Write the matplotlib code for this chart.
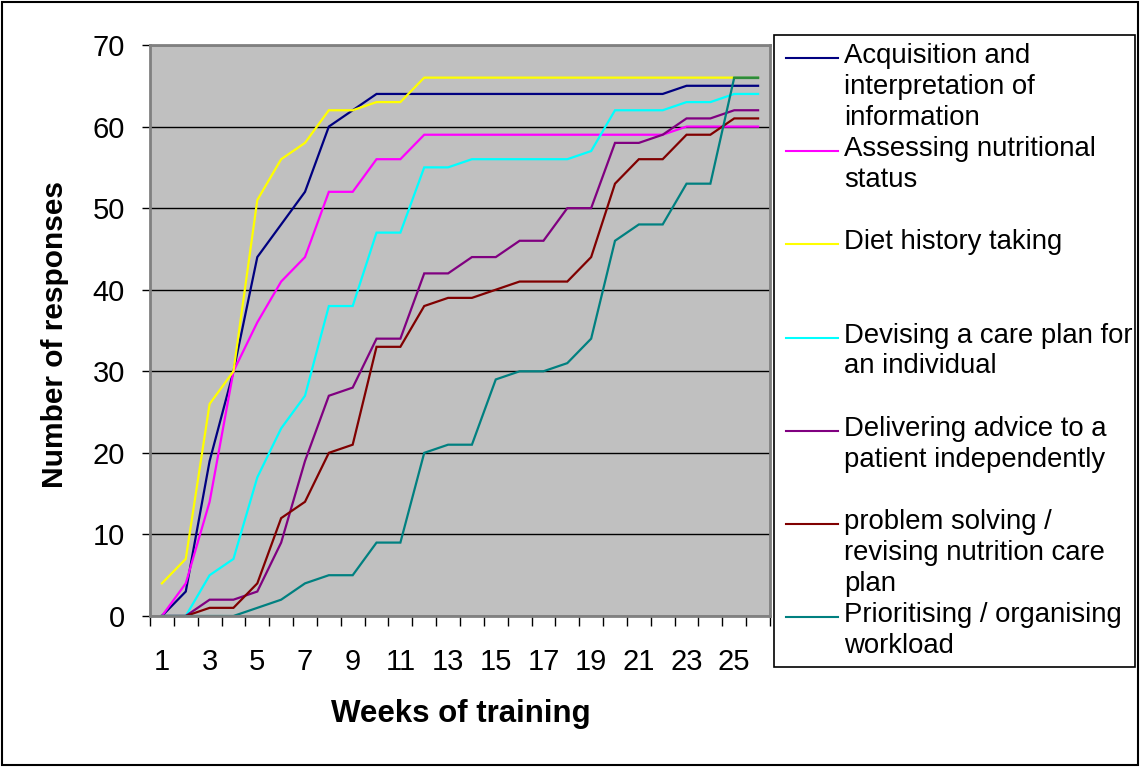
import numpy as np
import matplotlib
matplotlib.use("Agg")
import matplotlib.pyplot as plt
from matplotlib.lines import Line2D
from matplotlib.patches import Rectangle

plt.rcParams['font.family'] = ['Liberation Sans', 'DejaVu Sans']

weeks = list(range(1, 27))
tick_labels = [str(w) for w in range(1, 26, 2)]

acquisition = [0, 3, 19, 30, 44, 48, 52, 60, 62, 64, 64, 64, 64, 64, 64, 64, 64, 64, 64, 64, 64, 64, 65, 65, 65, 65]
assessing = [0, 4, 14, 30, 36, 41, 44, 52, 52, 56, 56, 59, 59, 59, 59, 59, 59, 59, 59, 59, 59, 59, 60, 60, 60, 60]
diet_history = [4, 7, 26, 30, 51, 56, 58, 62, 62, 63, 63, 66, 66, 66, 66, 66, 66, 66, 66, 66, 66, 66, 66, 66, 66, 66]
devising = [0, 0, 5, 7, 17, 23, 27, 38, 38, 47, 47, 55, 55, 56, 56, 56, 56, 56, 57, 62, 62, 62, 63, 63, 64, 64]
delivering = [0, 0, 2, 2, 3, 9, 19, 27, 28, 34, 34, 42, 42, 44, 44, 46, 46, 50, 50, 58, 58, 59, 61, 61, 62, 62]
problem_solving = [0, 0, 1, 1, 4, 12, 14, 20, 21, 33, 33, 38, 39, 39, 40, 41, 41, 41, 44, 53, 56, 56, 59, 59, 61, 61]
prioritising = [0, 0, 0, 0, 1, 2, 4, 5, 5, 9, 9, 20, 21, 21, 29, 30, 30, 31, 34, 46, 48, 48, 53, 53, 66, 66]
# overlapping final segment shown in green in the original
overlap_end = [np.nan] * 24 + [66, 66]

series = [
    ("Acquisition and\ninterpretation of\ninformation", acquisition, "#000080"),
    ("Assessing nutritional\nstatus", assessing, "#FF00FF"),
    ("Diet history taking", diet_history, "#FFFF00"),
    ("Devising a care plan for\nan individual", devising, "#00FFFF"),
    ("Delivering advice to a\npatient independently", delivering, "#800080"),
    ("problem solving /\nrevising nutrition care\nplan", problem_solving, "#800000"),
    ("Prioritising / organising\nworkload", prioritising, "#008080"),
]

W, H = 1141, 767
fig = plt.figure(figsize=(W / 100, H / 100), dpi=100)
fig.patch.set_facecolor("white")

def fx(px):
    return px / W

def fy(py):
    return 1 - py / H

ax = fig.add_axes([fx(150), fy(616), fx(770) - fx(150), fy(45) - fy(616)])
ax.set_facecolor("#C0C0C0")

for label, vals, color in series:
    ax.plot(weeks, vals, color=color, lw=1.6, solid_joinstyle="miter")
ax.plot(weeks, overlap_end, color="#2E8B3A", lw=1.6)

ax.set_xlim(0.5, 26.5)
ax.set_ylim(0, 70)
ax.set_yticks(range(0, 71, 10))
ax.yaxis.grid(True, color="black", lw=1.0)
ax.set_axisbelow(True)

ax.set_xticks(range(1, 26, 2))
ax.set_xticklabels(tick_labels)
ax.set_xticks(np.arange(0.5, 27, 1), minor=True)
ax.tick_params(axis="x", which="major", length=0, pad=23, labelsize=21)
ax.tick_params(axis="x", which="minor", length=7, width=1, color="black")
ax.tick_params(axis="y", which="major", length=6, width=1, pad=12, labelsize=21)

for s in ax.spines.values():
    s.set_color("#808080")
    s.set_linewidth(2)

fig.text(fx(55), fy(335), "Number of responses", rotation=90, ha="center", va="center",
         fontsize=21.5, fontweight="bold")
fig.text(fx(461), fy(714), "Weeks of training", ha="center", va="center",
         fontsize=22.5, fontweight="bold")

# legend box
fig.patches.append(Rectangle((fx(774), fy(667)), fx(1135) - fx(774), fy(35) - fy(667),
                             transform=fig.transFigure, fill=False, edgecolor="black", lw=1.2))
y0 = 58
step = 93.2
for i, (label, vals, color) in enumerate(series):
    yc = y0 + i * step
    fig.add_artist(Line2D([fx(786), fx(838)], [fy(yc), fy(yc)], color=color, lw=1.5,
                          transform=fig.transFigure))
    fig.text(fx(844), fy(yc - 15), label, ha="left", va="top", fontsize=19.8,
             linespacing=1.24)

# outer border
fig.patches.append(Rectangle((fx(2), fy(765)), fx(1138) - fx(2), fy(2) - fy(765),
                             transform=fig.transFigure, fill=False, edgecolor="black", lw=1.5))

fig.savefig("out.png", dpi=100, facecolor="white")
